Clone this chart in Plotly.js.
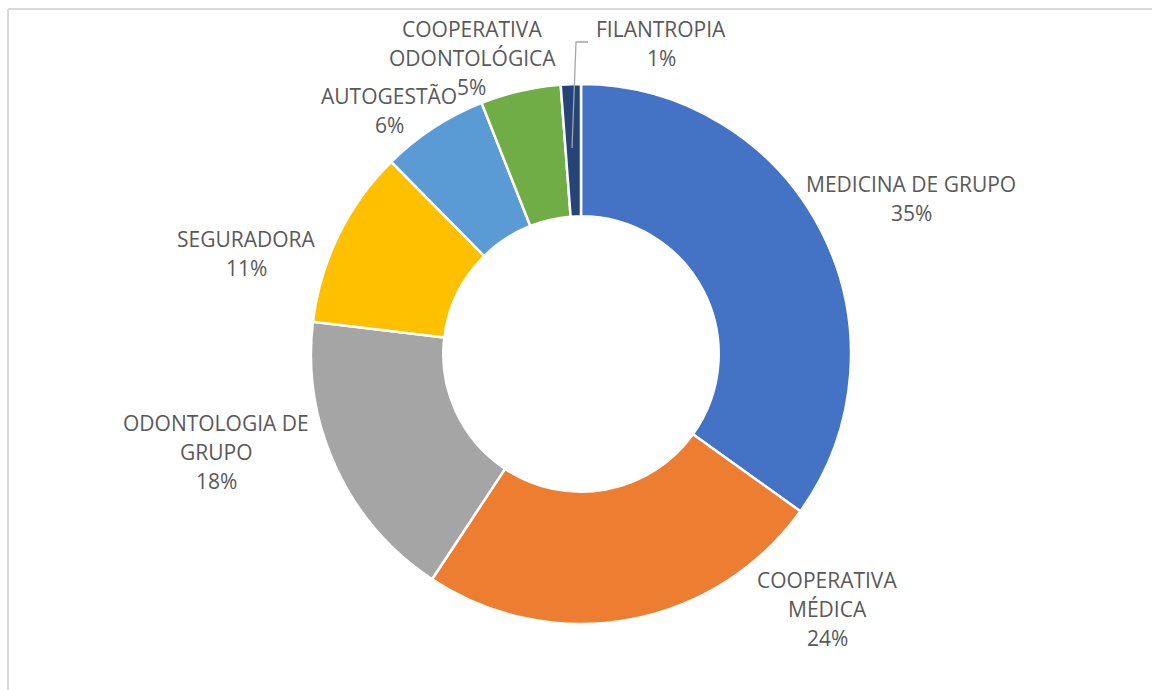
<!DOCTYPE html>
<html><head><meta charset="utf-8">
<script src="https://cdn.plot.ly/plotly-3.0.1.min.js"></script>
<style>body{margin:0;background:#fff}#chart{width:1152px;height:690px}</style>
</head><body><div id="chart"></div>
<script>
// Data
const categories = ["MEDICINA DE GRUPO","COOPERATIVA MÉDICA","ODONTOLOGIA DE GRUPO","SEGURADORA","AUTOGESTÃO","COOPERATIVA ODONTOLÓGICA","FILANTROPIA"];
const labelLines = [["MEDICINA DE GRUPO"],["COOPERATIVA","MÉDICA"],["ODONTOLOGIA DE","GRUPO"],["SEGURADORA"],["AUTOGESTÃO"],["COOPERATIVA","ODONTOLÓGICA"],["FILANTROPIA"]];
const values = [34.9, 24.4, 17.6, 10.7, 6.4, 4.8, 1.2];
const colors = ["#4472C4","#ED7D31","#A5A5A5","#FFC000","#5B9BD5","#70AD47","#264478"];

// Layout (pixel positions of label blocks: center x, first line y)
const W = 1152, H = 690;
const labelPos = [[911,184],[827,580],[216,423],[246,239],[389,96],[472,29],[661,29]];
const pctPos = [null,null,null,null,null,[471,87],null];
const lineH = 29;
const fnt = {family:"Open Sans, Noto Sans, sans-serif", size:21, color:"#595959"};

const total = values.reduce((a,b)=>a+b,0);
const annotations = [];
categories.forEach((c,i)=>{
  const lines = labelLines[i].slice();
  const pct = Math.round(values[i]/total*100) + "%";
  const [cx, y0] = labelPos[i];
  let allLines = lines.concat(pctPos[i] ? [] : [pct]);
  allLines.forEach((t,j)=>{
    annotations.push({xref:"paper",yref:"paper",x:cx/W,y:1-(y0+j*lineH)/H,text:t,showarrow:false,xanchor:"center",yanchor:"middle",font:fnt});
  });
  if (pctPos[i]) {
    annotations.push({xref:"paper",yref:"paper",x:pctPos[i][0]/W,y:1-pctPos[i][1]/H,text:pct,showarrow:false,xanchor:"center",yanchor:"middle",font:fnt});
  }
});

const px = v=>v/W, py = v=>1-v/H;
const shapes = [
  {type:"line",xref:"paper",yref:"paper",x0:px(8),x1:px(8),y0:py(9),y1:py(700),line:{color:"#d9d9d9",width:2}},
  {type:"line",xref:"paper",yref:"paper",x0:px(8),x1:px(1160),y0:py(9),y1:py(9),line:{color:"#d9d9d9",width:2}},
  {type:"path",xref:"paper",yref:"paper",path:`M ${px(572)} ${py(148)} L ${px(576)} ${py(42)} L ${px(588)} ${py(42)}`,line:{color:"#a6a6a6",width:1.3}}
];

Plotly.newPlot("chart",[{
  type:"pie",
  labels:categories,
  values:values,
  hole:0.51,
  sort:false,
  direction:"clockwise",
  rotation:0,
  textinfo:"none",
  marker:{colors:colors,line:{color:"#ffffff",width:2.5}},
  domain:{x:[311/W,851/W],y:[1-624/H,1-84/H]},
  showlegend:false,
  hoverinfo:"label+percent"
}],{
  width:W,height:H,
  margin:{l:0,r:0,t:0,b:0},
  paper_bgcolor:"#ffffff",
  annotations:annotations,
  shapes:shapes
},{displayModeBar:false,staticPlot:true});
</script></body></html>
